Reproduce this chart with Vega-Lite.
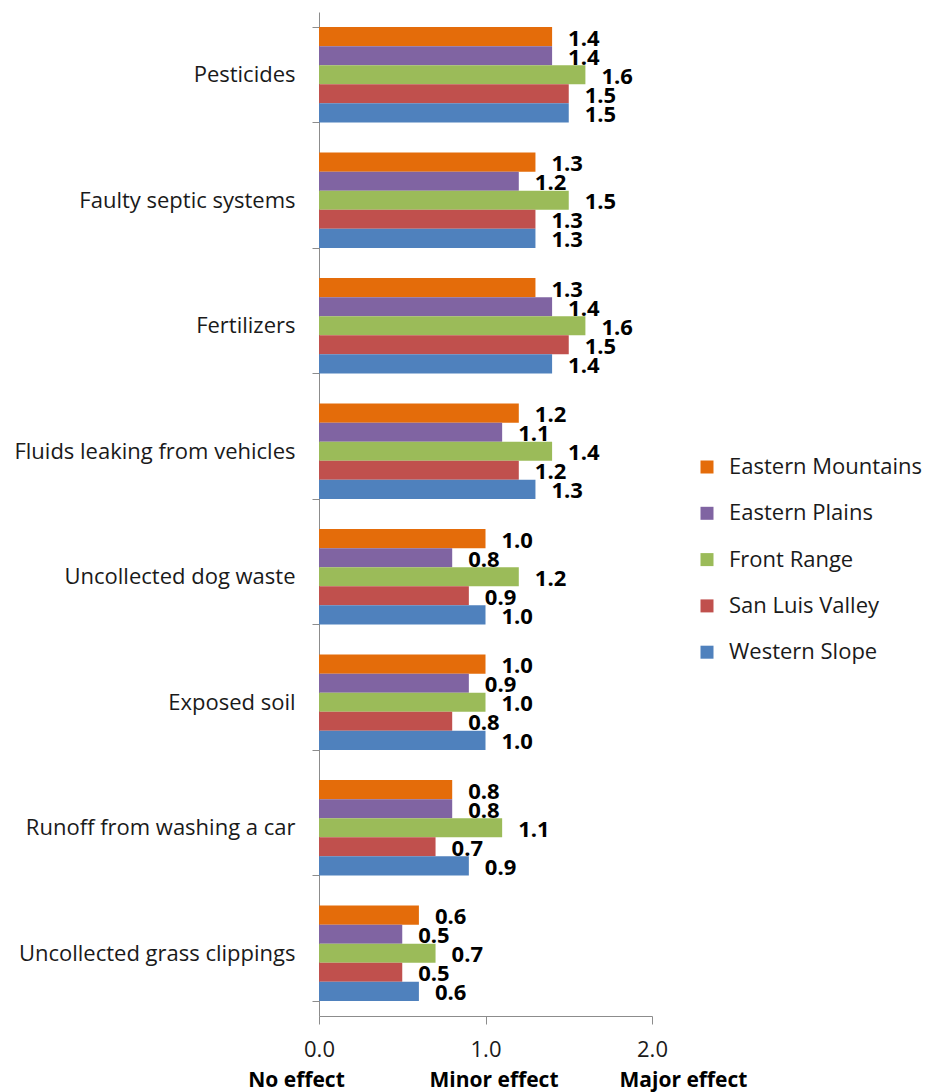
{
  "$schema": "https://vega.github.io/schema/vega-lite/v6.json",
  "width": 333,
  "height": 1004,
  "autosize": "none",
  "padding": {"left": 319, "top": 12, "right": 277, "bottom": 76},
  "background": "white",
  "config": {
    "font": "Open Sans",
    "view": {"stroke": null},
    "axis": {"labelColor": "#1a1a1a", "domainColor": "#8c8c8c", "tickColor": "#8c8c8c", "grid": false, "title": null, "labelFontSize": 22, "labelLimit": 0}
  },
  "data": {
    "values": [
      {"source": "Pesticides", "region": "Eastern Mountains", "score": 1.4},
      {"source": "Pesticides", "region": "Eastern Plains", "score": 1.4},
      {"source": "Pesticides", "region": "Front Range", "score": 1.6},
      {"source": "Pesticides", "region": "San Luis Valley", "score": 1.5},
      {"source": "Pesticides", "region": "Western Slope", "score": 1.5},
      {"source": "Faulty septic systems", "region": "Eastern Mountains", "score": 1.3},
      {"source": "Faulty septic systems", "region": "Eastern Plains", "score": 1.2},
      {"source": "Faulty septic systems", "region": "Front Range", "score": 1.5},
      {"source": "Faulty septic systems", "region": "San Luis Valley", "score": 1.3},
      {"source": "Faulty septic systems", "region": "Western Slope", "score": 1.3},
      {"source": "Fertilizers", "region": "Eastern Mountains", "score": 1.3},
      {"source": "Fertilizers", "region": "Eastern Plains", "score": 1.4},
      {"source": "Fertilizers", "region": "Front Range", "score": 1.6},
      {"source": "Fertilizers", "region": "San Luis Valley", "score": 1.5},
      {"source": "Fertilizers", "region": "Western Slope", "score": 1.4},
      {"source": "Fluids leaking from vehicles", "region": "Eastern Mountains", "score": 1.2},
      {"source": "Fluids leaking from vehicles", "region": "Eastern Plains", "score": 1.1},
      {"source": "Fluids leaking from vehicles", "region": "Front Range", "score": 1.4},
      {"source": "Fluids leaking from vehicles", "region": "San Luis Valley", "score": 1.2},
      {"source": "Fluids leaking from vehicles", "region": "Western Slope", "score": 1.3},
      {"source": "Uncollected dog waste", "region": "Eastern Mountains", "score": 1.0},
      {"source": "Uncollected dog waste", "region": "Eastern Plains", "score": 0.8},
      {"source": "Uncollected dog waste", "region": "Front Range", "score": 1.2},
      {"source": "Uncollected dog waste", "region": "San Luis Valley", "score": 0.9},
      {"source": "Uncollected dog waste", "region": "Western Slope", "score": 1.0},
      {"source": "Exposed soil", "region": "Eastern Mountains", "score": 1.0},
      {"source": "Exposed soil", "region": "Eastern Plains", "score": 0.9},
      {"source": "Exposed soil", "region": "Front Range", "score": 1.0},
      {"source": "Exposed soil", "region": "San Luis Valley", "score": 0.8},
      {"source": "Exposed soil", "region": "Western Slope", "score": 1.0},
      {"source": "Runoff from washing a car", "region": "Eastern Mountains", "score": 0.8},
      {"source": "Runoff from washing a car", "region": "Eastern Plains", "score": 0.8},
      {"source": "Runoff from washing a car", "region": "Front Range", "score": 1.1},
      {"source": "Runoff from washing a car", "region": "San Luis Valley", "score": 0.7},
      {"source": "Runoff from washing a car", "region": "Western Slope", "score": 0.9},
      {"source": "Uncollected grass clippings", "region": "Eastern Mountains", "score": 0.6},
      {"source": "Uncollected grass clippings", "region": "Eastern Plains", "score": 0.5},
      {"source": "Uncollected grass clippings", "region": "Front Range", "score": 0.7},
      {"source": "Uncollected grass clippings", "region": "San Luis Valley", "score": 0.5},
      {"source": "Uncollected grass clippings", "region": "Western Slope", "score": 0.6}
    ]
  },
  "layer": [
    {
      "mark": {"type": "bar"},
      "encoding": {
        "y": {
          "field": "source", "type": "nominal", "sort": null,
          "scale": {"paddingInner": 0.24, "paddingOuter": 0.12},
          "axis": {"tickBand": "extent", "tickSize": 7, "labelPadding": 17}
        },
        "yOffset": {
          "field": "region", "type": "nominal",
          "sort": ["Eastern Mountains", "Eastern Plains", "Front Range", "San Luis Valley", "Western Slope"],
          "scale": {"paddingInner": 0, "paddingOuter": 0}
        },
        "x": {
          "field": "score", "type": "quantitative",
          "scale": {"domain": [0, 2], "nice": false},
          "axis": {"orient": "bottom", "values": [0, 1, 2], "format": ".1f", "tickSize": 8, "labelPadding": 15, "labelFlush": false, "labelOverlap": false}
        },
        "color": {
          "field": "region", "type": "nominal",
          "scale": {
            "domain": ["Eastern Mountains", "Eastern Plains", "Front Range", "San Luis Valley", "Western Slope"],
            "range": ["#E46C0A", "#8064A2", "#9BBB59", "#C0504D", "#4F81BD"]
          },
          "legend": {
            "title": null, "orient": "none", "legendX": 377, "legendY": 444,
            "symbolType": "square", "symbolSize": 169, "symbolStrokeWidth": 0,
            "labelFontSize": 22, "labelColor": "#1a1a1a", "labelOffset": 11, "rowPadding": 24.3, "labelLimit": 0
          }
        }
      }
    },
    {
      "mark": {"type": "text", "align": "left", "baseline": "middle", "dx": 16, "dy": 2, "fontWeight": "bold", "fontSize": 22, "color": "#000000"},
      "encoding": {
        "y": {"field": "source", "type": "nominal", "sort": null},
        "yOffset": {"field": "region", "type": "nominal", "sort": ["Eastern Mountains", "Eastern Plains", "Front Range", "San Luis Valley", "Western Slope"]},
        "x": {"field": "score", "type": "quantitative", "axis": null},
        "text": {"field": "score", "type": "quantitative", "format": ".1f"}
      }
    },
    {
      "data": {"values": [{"level": 0, "desc": "No effect"}, {"level": 1, "desc": "Minor effect"}, {"level": 2, "desc": "Major effect"}]},
      "mark": {"type": "text", "opacity": 0},
      "encoding": {
        "x": {
          "field": "level", "type": "quantitative",
          "axis": {
            "orient": "bottom", "values": [0, 1, 2], "domain": false, "ticks": false, "tickSize": 0, "labelPadding": 53,
            "labelFlush": false, "labelOverlap": false,
            "labelFontWeight": "bold", "labelFontSize": 21, "labelColor": "#000000",
            "labelExpr": "datum.value == 0 ? 'No effect' : datum.value == 1 ? 'Minor effect' : 'Major effect'",
            "labelOffset": {"condition": [{"test": "datum.value == 0", "value": -23}, {"test": "datum.value == 1", "value": 8}], "value": 31}
          }
        },
        "text": {"field": "desc"}
      }
    }
  ],
  "resolve": {"axis": {"x": "independent"}}
}
